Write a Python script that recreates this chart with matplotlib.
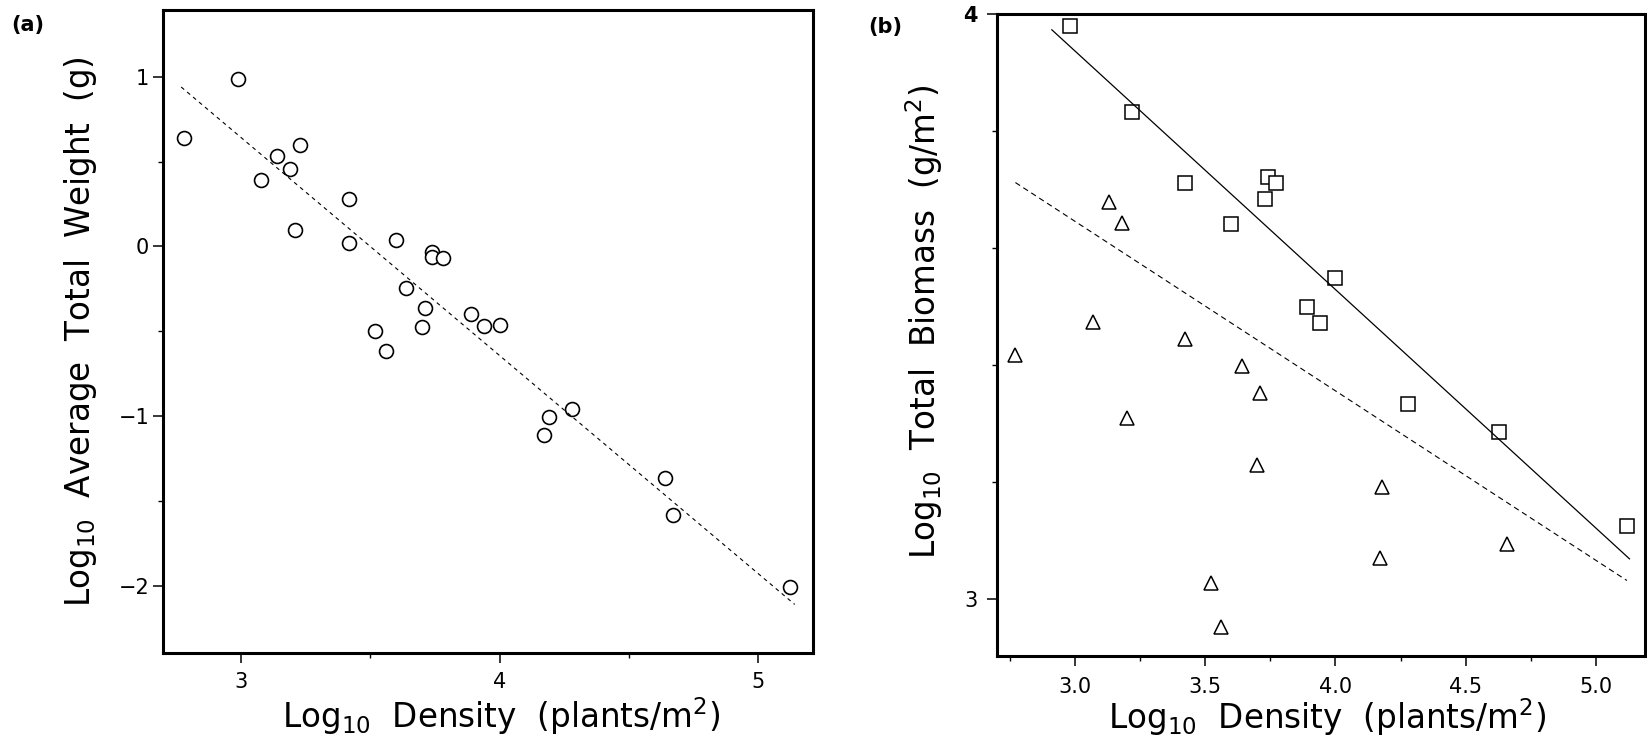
import matplotlib
matplotlib.use('Agg')
import matplotlib.pyplot as plt
from matplotlib.ticker import MultipleLocator, FixedLocator


# Panel (a): log density vs log average total weight (circles)
density_a = [2.78, 2.99, 3.08, 3.14, 3.19, 3.23, 3.21, 3.42, 3.42, 3.60, 3.64, 3.52, 3.56,
             3.74, 3.74, 3.78, 3.71, 3.70, 3.89, 3.94, 4.00, 4.28, 4.19, 4.17, 4.64, 4.67, 5.12]
weight_a = [0.64, 0.99, 0.39, 0.535, 0.455, 0.60, 0.10, 0.28, 0.02, 0.04, -0.245, -0.50, -0.615,
            -0.03, -0.06, -0.065, -0.36, -0.475, -0.395, -0.47, -0.465, -0.96, -1.005, -1.11,
            -1.365, -1.58, -2.005]
fit_a_x = [2.77, 5.14]
fit_a_y = [0.94, -2.11]

# Panel (b): log density vs log total biomass (squares and triangles)
density_sq = [2.98, 3.22, 3.42, 3.60, 3.74, 3.77, 3.73, 4.00, 3.89, 3.94, 4.28, 4.63, 5.12]
biomass_sq = [3.98, 3.832, 3.712, 3.641, 3.722, 3.712, 3.684, 3.549, 3.499, 3.472, 3.333, 3.285, 3.125]
density_tri = [2.77, 3.07, 3.13, 3.18, 3.20, 3.42, 3.52, 3.56, 3.64, 3.70, 3.71, 4.17, 4.18, 4.66]
biomass_tri = [3.417, 3.473, 3.678, 3.643, 3.31, 3.445, 3.028, 2.953, 3.398, 3.23, 3.352,
               3.071, 3.192, 3.095]
solid_b_x = [2.91, 5.13]
solid_b_y = [3.973, 3.069]
dashed_b_x = [2.77, 5.12]
dashed_b_y = [3.712, 3.032]

xticks_a = [3, 4, 5]
yticks_a = [1, 0, -1, -2]
xticks_b = [3.0, 3.5, 4.0, 4.5, 5.0]
yticks_b = [3, 4]

label_size = 23.5
tick_size = 15
x_label = r'Log$_{10}$  Density  (plants/m$^2$)'


def style_axes(ax):
    for spine in ax.spines.values():
        spine.set_linewidth(2.2)
    ax.tick_params(which='major', direction='out', length=7, width=1.1, labelsize=tick_size)
    ax.tick_params(which='minor', direction='out', length=3.5, width=1.0)
    ax.tick_params(top=False, right=False)


fig = plt.figure(figsize=(16.47, 7.41), dpi=100)

# ---- panel (a) ----
ax1 = fig.add_axes([0.099, 0.1188, 0.3947, 0.8677])
ax1.plot(density_a, weight_a, linestyle='none', marker='o', markersize=10,
         markerfacecolor='white', markeredgecolor='black', markeredgewidth=1.2)
ax1.plot(fit_a_x, fit_a_y, color='black', linewidth=0.8, dashes=(3.5, 3.5))
ax1.set_xlim(2.70, 5.211)
ax1.set_ylim(-2.396, 1.394)
ax1.xaxis.set_major_locator(FixedLocator(xticks_a))
ax1.yaxis.set_major_locator(FixedLocator(yticks_a))
ax1.xaxis.set_minor_locator(MultipleLocator(0.5))
ax1.yaxis.set_minor_locator(MultipleLocator(0.5))
ax1.set_xticklabels([str(t) for t in xticks_a])
ax1.set_yticklabels([str(t).replace('-', '\u2212') for t in yticks_a])
style_axes(ax1)
ax1.tick_params(axis='x', pad=7)
ax1.tick_params(axis='y', pad=3)
ax1.set_xlabel(x_label, fontsize=label_size)
ax1.set_ylabel(r'Log$_{10}$  Average  Total  Weight  (g)', fontsize=label_size)
ax1.xaxis.set_label_coords(0.52, -0.066)
ax1.yaxis.set_label_coords(-0.098, 0.5)
fig.text(0.007, 0.966, '(a)', fontsize=15, fontweight='bold', ha='left', va='center')

# ---- panel (b) ----
ax2 = fig.add_axes([0.6053, 0.1147, 0.3934, 0.8664])
ax2.plot(density_sq, biomass_sq, linestyle='none', marker='s', markersize=10,
         markerfacecolor='white', markeredgecolor='black', markeredgewidth=1.1)
ax2.plot(density_tri, biomass_tri, linestyle='none', marker='^', markersize=10,
         markerfacecolor='white', markeredgecolor='black', markeredgewidth=1.1)
ax2.plot(solid_b_x, solid_b_y, color='black', linewidth=0.9)
ax2.plot(dashed_b_x, dashed_b_y, color='black', linewidth=0.8, dashes=(5, 3.5))
ax2.set_xlim(2.699, 5.189)
ax2.set_ylim(2.903, 4.0)
ax2.xaxis.set_major_locator(FixedLocator(xticks_b))
ax2.yaxis.set_major_locator(FixedLocator(yticks_b))
ax2.xaxis.set_minor_locator(MultipleLocator(0.25))
ax2.yaxis.set_minor_locator(MultipleLocator(0.2))
ax2.set_xticklabels(['%.1f' % t for t in xticks_b])
ax2.set_yticklabels([str(t) for t in yticks_b])
style_axes(ax2)
ax2.tick_params(axis='x', pad=8)
ax2.tick_params(axis='y', pad=7)
ax2.get_yticklabels()[1].set_fontweight('bold')
ax2.set_xlabel(x_label, fontsize=label_size)
ax2.set_ylabel(r'Log$_{10}$  Total  Biomass  (g/m$^2$)', fontsize=label_size)
ax2.xaxis.set_label_coords(0.51, -0.062)
ax2.yaxis.set_label_coords(-0.080, 0.52)
fig.text(0.527, 0.964, '(b)', fontsize=15, fontweight='bold', ha='left', va='center')

fig.savefig('out.png', dpi=100)
